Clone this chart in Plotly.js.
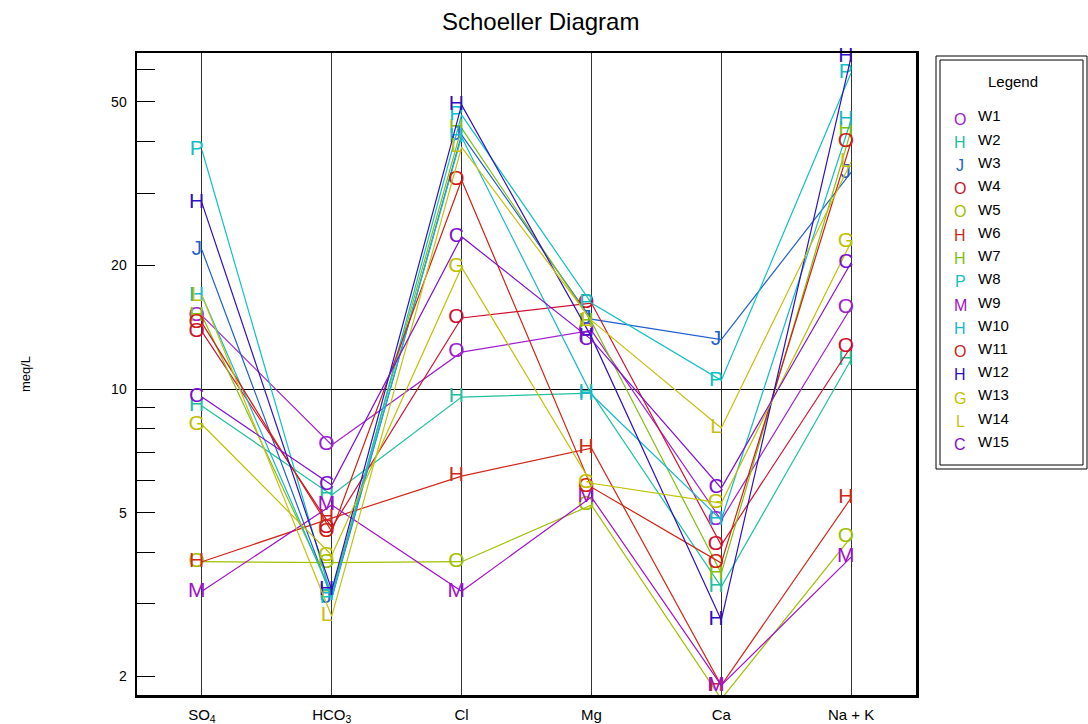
<!DOCTYPE html>
<html>
<head>
<meta charset="utf-8">
<script src="https://cdn.plot.ly/plotly-3.0.1.min.js"></script>
<style>html,body{margin:0;padding:0;background:#fff;}#chart{width:1088px;height:724px;}</style>
</head>
<body>
<div id="chart"></div>
<script>
// Ions (x categories)
var categories = ['SO<sub>4</sub>', 'HCO<sub>3</sub>', 'Cl', 'Mg', 'Ca', 'Na + K'];

// Wells, marker letters and colours
var wellNames = ['W1','W2','W3','W4','W5','W6','W7','W8','W9','W10','W11','W12','W13','W14','W15'];
var wellLetters = ['O','H','J','O','O','H','H','P','M','H','O','H','G','L','C'];
var wellColors = ['#a020d0','#20c0a0','#2060d0','#d01030','#a0c000','#d02818','#80c010','#10c0c8',
                  '#a010c8','#18b8d0','#d02010','#3010c0','#c0c000','#c8c010','#8010d0'];

// Concentrations in meq/L, order: SO4, HCO3, Cl, Mg, Ca, Na+K
var W1  = [15.1, 7.31, 12.3, 13.9, 4.8, 15.8];
var W2  = [9.1, 5.52, 9.56, 9.78, 3.3, 11.8];
var W3  = [21.8, 3.1, 41.6, 14.8, 13.2, 33.7];
var W4  = [13.8, 4.6, 14.9, 16.2, 4.17, 12.7];
var W5  = [3.8, 3.78, 3.8, 5.22, 1.76, 4.36];
var W6  = [3.8, 4.85, 6.14, 7.18, 1.9, 5.43];
var W7  = [15.1, 3.2, 43.2, 14.6, 3.56, 42.7];
var W8  = [38.2, 3.1, 46.5, 16.2, 10.5, 58.8];
var W9  = [3.22, 5.22, 3.22, 5.46, 1.9, 3.9];
var W10 = [16.9, 3.15, 41.1, 9.7, 4.8, 45.2];
var W11 = [14.5, 4.5, 32.3, 5.77, 3.77, 40.0];
var W12 = [28.4, 3.24, 49.2, 13.4, 2.74, 64.4];
var W13 = [8.2, 3.94, 19.8, 5.9, 5.28, 22.8];
var W14 = [16.9, 2.8, 38.8, 14.7, 8.04, 35.7];
var W15 = [9.56, 5.84, 23.5, 13.2, 5.74, 20.3];
var wellValues = [W1,W2,W3,W4,W5,W6,W7,W8,W9,W10,W11,W12,W13,W14,W15];

// y tick values and labels
var yTickVals = [2,3,4,5,6,7,8,9,10,20,30,40,50,60];
var yTickText = ['2','','','5','','','','','10','20','','','50',''];

var FONT = 'Liberation Sans, Arial, sans-serif';
var W = 1088, H = 724;
var mL = 137, mR = 172, mT = 53, mB = 29;
var pw = W - mL - mR, ph = H - mT - mB;
function px(x){ return (x - mL) / pw; }
function py(y){ return (H - mB - y) / ph; }

var traces = wellNames.map(function(name, i){
  return {
    type: 'scatter',
    mode: 'lines+text',
    name: name,
    x: categories,
    y: wellValues[i],
    // trailing space nudges the letter slightly left of the point, as in the original
    text: wellValues[i].map(function(){ return wellLetters[i] + '\u2002'; }),
    textposition: 'middle center',
    textfont: {family: FONT, size: 21, color: wellColors[i]},
    line: {color: wellColors[i], width: 1.2},
    cliponaxis: false,
    showlegend: false,
    hoverinfo: 'x+y+name'
  };
});
// Empty trace on overlay axis that carries the gridline at 10
traces.push({type:'scatter', x:[], y:[], yaxis:'y2', showlegend:false, hoverinfo:'skip'});

var yr = [Math.log10(1.8), Math.log10(65.8)];

var annotations = [];
var shapes = [];
// Legend box (double frame)
shapes.push({type:'rect', xref:'paper', yref:'paper', x0:px(936), x1:px(1087), y0:py(56), y1:py(469),
             line:{color:'#000', width:1}, fillcolor:'rgba(0,0,0,0)'});
shapes.push({type:'rect', xref:'paper', yref:'paper', x0:px(940), x1:px(1083), y0:py(60), y1:py(465),
             line:{color:'#000', width:1}, fillcolor:'rgba(0,0,0,0)'});
annotations.push({xref:'paper', yref:'paper', x:px(1013), y:py(82), text:'Legend', showarrow:false,
                  xanchor:'center', yanchor:'middle', font:{family:FONT, size:15, color:'#000'}});
wellNames.forEach(function(name, i){
  var rowY = 119 + i * 23.25;
  annotations.push({xref:'paper', yref:'paper', x:px(960), y:py(rowY), text:wellLetters[i], showarrow:false,
                    xanchor:'center', yanchor:'middle', font:{family:FONT, size:16, color:wellColors[i]}});
  annotations.push({xref:'paper', yref:'paper', x:px(976), y:py(rowY - 3), text:name, showarrow:false,
                    xanchor:'left', yanchor:'middle', font:{family:FONT, size:15, color:'#000'}});
});

var layout = {
  width: W, height: H,
  margin: {l: mL, r: mR, t: mT, b: mB, pad: 0},
  paper_bgcolor: '#fff', plot_bgcolor: '#fff',
  font: {family: FONT, color: '#000'},
  title: {text: 'Schoeller Diagram', font: {family: FONT, size: 24, color: '#000'},
          xref: 'container', x: 0.497, xanchor: 'center', yref: 'container', y: 1 - 22/H, yanchor: 'middle'},
  xaxis: {
    type: 'category', range: [-0.5, 5.5], categoryorder: 'array', categoryarray: categories,
    showgrid: true, gridcolor: '#333', gridwidth: 1,
    showline: true, mirror: true, linecolor: '#000', linewidth: 2.5,
    ticks: 'outside', ticklen: 4, tickcolor: 'rgba(0,0,0,0)',
    tickfont: {family: FONT, size: 15, color: '#000'},
    zeroline: false, fixedrange: true
  },
  yaxis: {
    type: 'log', range: yr,
    tickvals: yTickVals, ticktext: yTickText,
    ticks: 'inside', ticklen: 18, tickwidth: 1, tickcolor: '#000',
    showgrid: false, zeroline: false,
    showline: true, mirror: true, linecolor: '#000', linewidth: 2.5,
    tickfont: {family: FONT, size: 14, color: '#000'},
    ticklabelstandoff: 5,
    title: {text: 'meq/L', font: {family: FONT, size: 13, color: '#000'}, standoff: 78},
    fixedrange: true
  },
  yaxis2: {
    type: 'log', range: yr, overlaying: 'y', side: 'left',
    tickvals: [10], showticklabels: false, ticks: '',
    showgrid: true, gridcolor: '#000', gridwidth: 1,
    showline: false, zeroline: false, fixedrange: true
  },
  shapes: shapes,
  annotations: annotations,
  showlegend: false,
  hovermode: 'closest'
};

Plotly.newPlot('chart', traces, layout, {displayModeBar: false, staticPlot: true});
</script>
</body>
</html>
